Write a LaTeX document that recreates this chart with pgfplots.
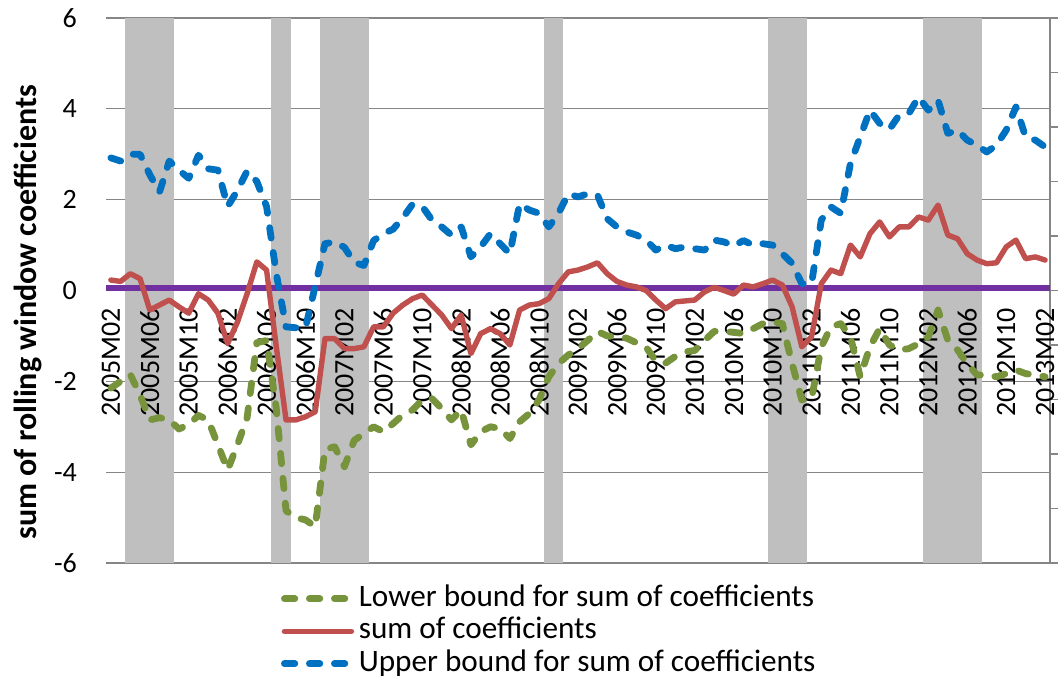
\documentclass[border=0pt]{standalone}
\usepackage{pgfplots}
\pgfplotsset{compat=1.18}
\usepackage{pgfplotstable}
\usepackage{fontspec}
\setmainfont{Carlito}

\definecolor{lowgreen}{HTML}{77933C}
\definecolor{sumred}{HTML}{C0504D}
\definecolor{upblue}{HTML}{0070C0}
\definecolor{axpurple}{HTML}{7030A0}
\definecolor{bandgray}{HTML}{BFBFBF}
\definecolor{gridgray}{HTML}{868686}

% i = month index, 0 = 2005M02 ... 96 = 2013M02
\pgfplotstableread{
i lo sum up
0 -2.15 0.23 2.92
1 -2.00 0.20 2.85
2 -1.85 0.37 3.00
3 -2.30 0.26 3.00
4 -2.85 -0.43 2.55
5 -2.80 -0.32 2.17
6 -2.85 -0.21 2.85
7 -3.05 -0.36 2.65
8 -2.95 -0.50 2.47
9 -2.75 -0.07 2.98
10 -2.85 -0.21 2.68
11 -3.40 -0.50 2.65
12 -3.95 -1.17 1.85
13 -3.40 -0.70 2.20
14 -2.80 -0.07 2.63
15 -1.15 0.63 2.40
16 -1.10 0.45 1.85
17 -2.60 -1.24 0.37
18 -4.85 -2.85 -0.80
19 -5.00 -2.85 -0.82
20 -5.05 -2.78 -0.82
21 -5.20 -2.67 0.10
22 -3.50 -1.06 1.03
23 -3.44 -1.06 1.07
24 -3.88 -1.28 0.95
25 -3.30 -1.28 0.62
26 -3.15 -1.24 0.55
27 -3.00 -0.80 1.10
28 -3.11 -0.80 1.25
29 -2.93 -0.50 1.35
30 -2.74 -0.32 1.60
31 -2.63 -0.18 1.90
32 -2.41 -0.10 1.85
33 -2.38 -0.32 1.55
34 -2.60 -0.54 1.40
35 -2.85 -0.84 1.22
36 -2.63 -0.54 1.40
37 -3.40 -1.39 0.74
38 -3.11 -0.95 0.96
39 -3.00 -0.84 1.25
40 -3.04 -0.95 1.03
41 -3.26 -1.20 0.81
42 -2.89 -0.43 1.91
43 -2.71 -0.32 1.77
44 -2.41 -0.29 1.70
45 -1.90 -0.18 1.40
46 -1.61 0.15 1.70
47 -1.42 0.41 2.13
48 -1.28 0.45 2.06
49 -1.10 0.52 2.13
50 -0.90 0.61 2.10
51 -1.00 0.37 1.58
52 -1.02 0.20 1.40
53 -1.05 0.12 1.29
54 -1.15 0.08 1.22
55 -1.25 0.00 1.11
56 -1.55 -0.21 0.89
57 -1.60 -0.40 1.00
58 -1.45 -0.25 0.92
59 -1.35 -0.23 0.96
60 -1.32 -0.21 0.92
61 -1.10 -0.03 0.89
62 -0.90 0.07 1.11
63 -0.90 0.00 1.07
64 -0.92 -0.08 0.98
65 -0.95 0.12 1.10
66 -0.84 0.08 1.00
67 -0.73 0.15 1.03
68 -0.69 0.23 1.00
69 -0.73 0.12 0.81
70 -1.61 -0.36 0.60
71 -2.41 -1.24 0.15
72 -2.38 -1.02 0.15
73 -1.24 0.15 1.55
74 -0.80 0.45 1.84
75 -0.73 0.37 1.70
76 -1.02 1.00 2.80
77 -1.90 0.74 3.38
78 -1.24 1.25 3.97
79 -0.84 1.51 3.68
80 -1.20 1.18 3.55
81 -1.31 1.40 3.86
82 -1.28 1.40 3.90
83 -1.17 1.62 4.26
84 -1.02 1.55 3.97
85 -0.43 1.88 4.19
86 -1.09 1.22 3.46
87 -1.31 1.14 3.53
88 -1.61 0.81 3.31
89 -1.86 0.67 3.20
90 -1.86 0.59 3.05
91 -1.90 0.61 3.20
92 -1.83 0.96 3.53
93 -1.75 1.11 4.04
94 -1.83 0.70 3.38
95 -1.86 0.74 3.31
96 -1.90 0.67 3.16
}\coef

\pgfplotsset{
  base/.style={scale only axis, width=472pt, height=272.5pt,
    xmin=-0.5, xmax=96.5},
  dashedline/.style={line width=3.4pt, line cap=round, line join=round,
    dash pattern=on 5.2pt off 7.3pt},
}

\begin{document}
\begin{tikzpicture}
\useasboundingbox (-53pt,-58.5pt) rectangle (477.5pt,281.5pt);

% grid, left tick labels, shaded periods
\begin{axis}[base,
  ymin=-6, ymax=6, ytick={-6,-4,...,6}, xtick=\empty,
  ymajorgrids, grid style={gridgray, line width=0.6pt},
  axis line style={draw=none}, major tick length=0pt,
  /pgf/number format/assume math mode=true,
  yticklabel style={font=\fontsize{14}{16}\selectfont, xshift=-11pt},
  ylabel={sum of rolling window coefficients},
  ylabel style={font=\fontsize{16}{19}\selectfont\bfseries,
    at={(rel axis cs:-0.0826,0.46)}, anchor=center},
]
\addplot[fill=bandgray, draw=none] coordinates {(1.5,-6) (6.5,-6) (6.5,6) (1.5,6)} -- cycle;
\addplot[fill=bandgray, draw=none] coordinates {(16.5,-6) (18.5,-6) (18.5,6) (16.5,6)} -- cycle;
\addplot[fill=bandgray, draw=none] coordinates {(21.5,-6) (26.5,-6) (26.5,6) (21.5,6)} -- cycle;
\addplot[fill=bandgray, draw=none] coordinates {(44.5,-6) (46.5,-6) (46.5,6) (44.5,6)} -- cycle;
\addplot[fill=bandgray, draw=none] coordinates {(67.5,-6) (71.5,-6) (71.5,6) (67.5,6)} -- cycle;
\addplot[fill=bandgray, draw=none] coordinates {(83.5,-6) (89.5,-6) (89.5,6) (83.5,6)} -- cycle;
\end{axis}

% secondary axis on the right (ticks only)
\begin{axis}[base,
  ymin=0, ymax=1, ytick={0,0.1,0.2,0.3,0.4,0.5,0.6,0.7,0.8,0.9,1},
  yticklabels={}, axis y line*=right, axis x line=none,
  tick align=outside, major tick length=4pt,
  tick style={gridgray, line width=0.6pt},
  axis line style={gridgray, line width=0.6pt},
]
\end{axis}

% series
\begin{axis}[base,
  ymin=-6, ymax=6, ytick=\empty,
  axis x line*=middle, axis y line=none,
  x axis line style={draw=none}, major tick length=0pt,
  xtick={0,4,...,96},
  xticklabels={2005M02,2005M06,2005M10,2006M02,2006M06,2006M10,2007M02,2007M06,2007M10,
    2008M02,2008M06,2008M10,2009M02,2009M06,2009M10,2010M02,2010M06,2010M10,
    2011M02,2011M06,2011M10,2012M02,2012M06,2012M10,2013M02},
  xticklabel style={rotate=90, anchor=east, inner sep=0pt, font=\fontsize{14}{16}\selectfont},
  xticklabel shift=8.5pt,
  legend style={at={(rel axis cs:0.185,-0.035)}, anchor=north west,
    draw=none, fill=none, inner sep=0pt, row sep=0pt, column sep=2pt,
    font=\fontsize{15.6}{19}\selectfont,
    nodes={inner sep=0pt, text height=12pt, text depth=4.25pt}},
  legend cell align=left,
  legend image code/.code={\draw[#1] (0pt,0pt) -- (33.5pt,0pt);},
]
\addplot[axpurple, line width=3pt, forget plot] coordinates {(-0.5,0.05) (96.5,0.05)};
\addplot[lowgreen, dashedline] table[x=i, y=lo] {\coef};
\addplot[sumred, line width=2.7pt, line cap=round, line join=round] table[x=i, y=sum] {\coef};
\addplot[upblue, dashedline] table[x=i, y=up] {\coef};
\legend{Lower bound for sum of coefficients, sum of coefficients, Upper bound for sum of coefficients}
\end{axis}
\end{tikzpicture}
\end{document}
